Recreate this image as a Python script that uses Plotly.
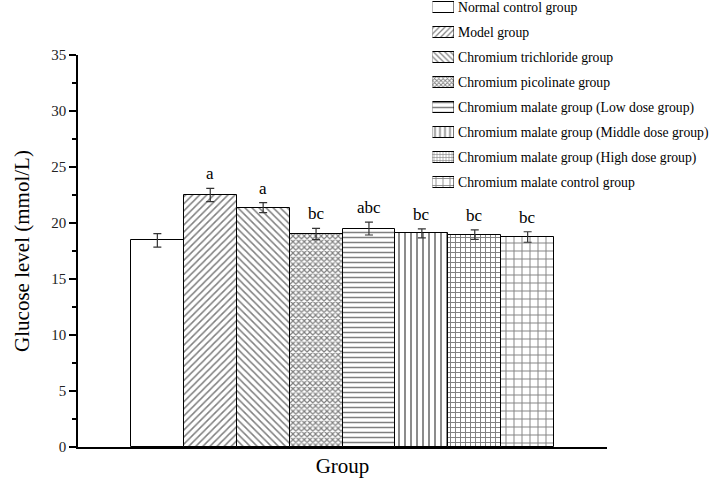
import plotly.graph_objects as go

groups = [
    "Normal control group",
    "Model group",
    "Chromium trichloride group",
    "Chromium picolinate group",
    "Chromium malate group (Low dose group)",
    "Chromium malate group (Middle dose group)",
    "Chromium malate group (High dose group)",
    "Chromium malate control group",
]
glucose = [18.45, 22.5, 21.37, 19.02, 19.5, 19.08, 18.96, 18.75]
sem = [0.6, 0.6, 0.45, 0.5, 0.57, 0.4, 0.42, 0.47]
letters = ["", "a", "a", "bc", "abc", "bc", "bc", "bc"]
y_ticks = [0, 5, 10, 15, 20, 25, 30, 35]

pattern_shapes = ["", "/", "\\", "x", "-", "|", "+", "+"]
pattern_sizes = [6, 5, 5, 4, 5, 6, 5, 8]
pattern_solidity = [0.3, 0.3, 0.3, 0.5, 0.3, 0.3, 0.35, 0.22]
legend_sizes = [6, 4, 4, 3, 5, 5, 3, 7]

FONT = "Times New Roman, Liberation Serif, serif"
W, H = 711, 480
# plot area in pixels
PX0, PX1, PY0, PY1 = 78, 607, 55, 447

fig = go.Figure()

fig.add_trace(go.Bar(
    x=groups,
    y=glucose,
    width=1,
    marker=dict(
        color="white",
        line=dict(color="black", width=1),
        pattern=dict(shape=pattern_shapes, size=pattern_sizes, fgcolor="black",
                     bgcolor="white", solidity=pattern_solidity),
    ),
    error_y=dict(type="data", array=sem, visible=True, color="#333333",
                 thickness=1.2, width=4),
    showlegend=False,
))

# significance letters
for g, v, e, t in zip(groups, glucose, sem, letters):
    if t:
        fig.add_annotation(x=g, y=v + e, xref="x", yref="y", text=t,
                           showarrow=False, yanchor="bottom", yshift=3,
                           font=dict(family=FONT, size=17, color="black"))

# manual legend: swatches as small horizontal bars on a helper axis
row_px = 25
first_px = 7.5
n = len(groups)
y2_top_px = 0
y2_bot_px = first_px + row_px * (n - 1) + 12.5
r_top = (y2_top_px - first_px) / row_px
r_bot = (y2_bot_px - first_px) / row_px
fig.add_trace(go.Bar(
    y=list(range(n)),
    x=[1] * n,
    orientation="h",
    width=0.42,
    marker=dict(
        color="white",
        line=dict(color="black", width=1),
        pattern=dict(shape=pattern_shapes, size=legend_sizes, fgcolor="black",
                     bgcolor="white", solidity=pattern_solidity),
    ),
    xaxis="x2", yaxis="y2",
    showlegend=False,
    hoverinfo="skip",
))
for i, g in enumerate(groups):
    fig.add_annotation(x=456 / W, y=1 - (first_px + row_px * i) / H,
                       xref="paper", yref="paper", text=g, showarrow=False,
                       xanchor="left", yanchor="middle",
                       font=dict(family=FONT, size=13.7, color="black"))

fig.update_layout(
    width=W, height=H,
    margin=dict(l=0, r=0, t=0, b=0, autoexpand=False),
    plot_bgcolor="white", paper_bgcolor="white",
    font=dict(family=FONT, color="black"),
    bargap=0,
    xaxis=dict(
        domain=[PX0 / W, PX1 / W],
        range=[-1.5, 8.5],
        automargin=False,
        showticklabels=False, ticks="",
        showline=True, linecolor="black", linewidth=1.5,
        showgrid=False, zeroline=False,
        title=dict(text="Group", font=dict(family=FONT, size=21), standoff=11),
    ),
    yaxis=dict(
        domain=[1 - PY1 / H, 1 - PY0 / H],
        range=[0, 35],
        automargin=False,
        tickvals=y_ticks,
        ticks="outside", ticklen=7, tickwidth=1.5, tickcolor="black",
        minor=dict(dtick=2.5, ticks="outside", ticklen=4, tickwidth=1.5,
                   tickcolor="black"),
        tickfont=dict(family=FONT, size=15, color="#222222"),
        showline=True, linecolor="black", linewidth=1.5,
        showgrid=False, zeroline=False,
        title=dict(text="Glucose level (mmol/L)",
                   font=dict(family=FONT, size=21), standoff=16),
    ),
    xaxis2=dict(domain=[432.5 / W, 454 / W], range=[0, 1], visible=False,
                anchor="y2", automargin=False),
    yaxis2=dict(domain=[1 - y2_bot_px / H, 1 - y2_top_px / H],
                range=[r_bot, r_top], visible=False, anchor="x2",
                automargin=False),
)

fig.write_html("out.html", config={"displayModeBar": False},
               post_script="document.body.style.margin='0px';")
